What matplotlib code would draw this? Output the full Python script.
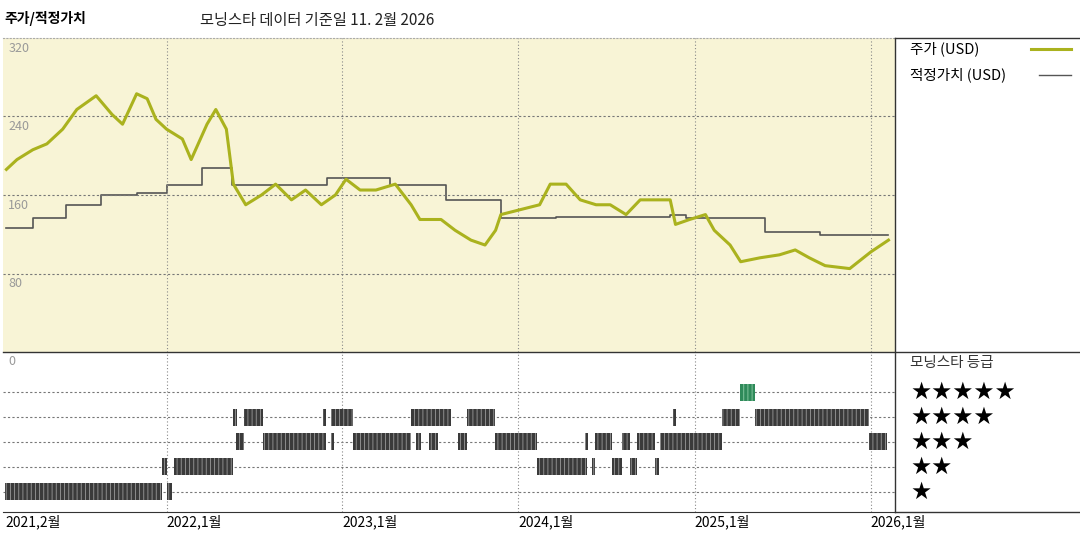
import datetime as dt
import matplotlib
matplotlib.use("Agg")
import matplotlib.pyplot as plt
import matplotlib.dates as mdates

plt.rcParams['font.family'] = ['Noto Sans CJK KR', 'DejaVu Sans']
plt.rcParams['hatch.linewidth'] = 0.6

# ---- data (dates as decimal years) ----
price_t = [2021.09, 2021.15, 2021.24, 2021.32, 2021.41, 2021.49, 2021.60, 2021.69, 2021.75, 2021.83,
           2021.89, 2021.94, 2022.00, 2022.09, 2022.14, 2022.23, 2022.28, 2022.34, 2022.38, 2022.45,
           2022.54, 2022.62, 2022.71, 2022.79, 2022.88, 2022.96, 2023.02, 2023.10, 2023.19, 2023.30,
           2023.39, 2023.44, 2023.56, 2023.64, 2023.73, 2023.81, 2023.87, 2023.90, 2024.01, 2024.12,
           2024.18, 2024.27, 2024.35, 2024.44, 2024.52, 2024.61, 2024.69, 2024.77, 2024.86, 2024.89,
           2024.97, 2025.06, 2025.11, 2025.20, 2025.26, 2025.37, 2025.48, 2025.57, 2025.65, 2025.74,
           2025.88, 2026.00, 2026.10]
price_v = [186, 196, 206, 212, 227, 247, 261, 242, 232, 263,
           258, 237, 227, 217, 196, 232, 247, 227, 171, 150,
           160, 171, 155, 165, 150, 160, 176, 165, 165, 171,
           150, 135, 135, 124, 114, 109, 124, 140, 145, 150,
           171, 171, 155, 150, 150, 140, 155, 155, 155, 130,
           135, 140, 124, 109, 92, 96, 99, 104, 96, 88,
           85, 102, 114]

fair_t = [2021.09, 2021.24, 2021.43, 2021.63, 2021.83, 2022.00, 2022.20, 2022.37, 2022.91, 2023.27,
          2023.59, 2023.90, 2024.21, 2024.86, 2024.95, 2025.40, 2025.71, 2026.10]
fair_v = [126, 137, 150, 160, 162, 170, 187, 170, 177, 170,
          155, 137, 138, 140, 137, 122, 119, 119]

# star rating periods: (start, end) decimal years
rating_periods = {
    1: [(2021.083, 2021.972), (2022.000, 2022.029)],
    2: [(2021.972, 2022.000), (2022.040, 2022.380), (2024.107, 2024.390), (2024.418, 2024.435),
        (2024.531, 2024.588), (2024.633, 2024.673), (2024.775, 2024.798)],
    3: [(2022.397, 2022.442), (2022.550, 2022.906), (2022.935, 2022.952), (2023.059, 2023.388),
        (2023.416, 2023.444), (2023.490, 2023.541), (2023.659, 2023.705), (2023.869, 2024.107),
        (2024.379, 2024.396), (2024.435, 2024.531), (2024.588, 2024.633), (2024.673, 2024.775),
        (2024.803, 2025.154), (2025.992, 2026.094)],
    4: [(2022.380, 2022.402), (2022.442, 2022.550), (2022.889, 2022.906), (2022.935, 2023.059),
        (2023.388, 2023.614), (2023.705, 2023.869), (2024.877, 2024.894), (2025.154, 2025.256),
        (2025.341, 2025.992)],
    5: [(2025.256, 2025.341)],
}

year_ticks = [2021.083, 2022.0, 2023.0, 2024.0, 2025.0, 2026.0]
year_labels = ["2021,2월", "2022,1월", "2023,1월", "2024,1월", "2025,1월", "2026,1월"]


def to_date(t):
    y = int(t)
    start = dt.datetime(y, 1, 1)
    return start + (dt.datetime(y + 1, 1, 1) - start) * (t - y)


x0, x1 = to_date(2021.072), to_date(2026.139)

fig = plt.figure(figsize=(10.8, 5.4), dpi=100)
ax = fig.add_axes([0.003, 0.348, 0.826, 0.582])
ax2 = fig.add_axes([0.003, 0.052, 0.826, 0.296])

# ---- price panel ----
ax.set_facecolor("#f8f4d6")
ax.plot([to_date(t) for t in price_t], price_v, color="#aab21e", lw=2.2, zorder=3)
ax.step([to_date(t) for t in fair_t], fair_v, where="post", color="#555555", lw=1.2, zorder=2)
ax.set_xlim(x0, x1)
ax.set_ylim(0, 320)
for v in [80, 160, 240]:
    ax.axhline(v, color="#777777", lw=0.8, ls=(0, (2, 2)))
for v in [80, 160, 240, 320]:
    ax.text(to_date(2021.10), v - 4, str(v), fontsize=9, color="#999999", va="top")
for t in year_ticks[1:]:
    ax.axvline(to_date(t), color="#888888", lw=0.8, ls=(0, (1, 2)))
ax.set_xticks([])
ax.set_yticks([])
for s in ["left", "right", "bottom"]:
    ax.spines[s].set_visible(False)
ax.spines["top"].set_color("#aaaaaa")
ax.spines["top"].set_linestyle((0, (1, 2)))

# ---- rating panel ----
ax2.set_xlim(x0, x1)
ax2.set_ylim(0.2, 6.6)
for r in range(1, 6):
    ax2.axhline(r, color="#777777", lw=0.8, ls=(0, (2, 2)), zorder=1)
for t in year_ticks[1:]:
    ax2.axvline(to_date(t), color="#888888", lw=0.8, ls=(0, (1, 2)), zorder=1)
for r, periods in rating_periods.items():
    segs = [(mdates.date2num(to_date(a)), mdates.date2num(to_date(b)) - mdates.date2num(to_date(a)))
            for a, b in periods]
    face = "#2f8a5a" if r == 5 else "#3a3a3a"
    hatch_col = "#8fcfa8" if r == 5 else "#9a9a9a"
    ax2.broken_barh(segs, (r - 0.34, 0.68), facecolor=face, edgecolor=hatch_col,
                    hatch="||||", lw=0, zorder=2)
ax2.text(to_date(2021.10), 6.5, "0", fontsize=9, color="#999999", va="top")
ax2.set_yticks([])
ax2.set_xticks([to_date(t) for t in year_ticks])
ax2.set_xticklabels(year_labels, fontsize=10, ha="left")
ax2.tick_params(axis="x", length=0, pad=2)
for s in ["left", "right", "top"]:
    ax2.spines[s].set_visible(False)
ax2.spines["bottom"].set_color("#333333")

# ---- frame lines on the right ----
fig.add_artist(plt.Line2D([0.829, 0.829], [0.052, 0.930], color="#333333", lw=1))
fig.add_artist(plt.Line2D([0.829, 1.0], [0.930, 0.930], color="#333333", lw=1))
fig.add_artist(plt.Line2D([0.003, 1.0], [0.348, 0.348], color="#333333", lw=1))
fig.add_artist(plt.Line2D([0.829, 1.0], [0.052, 0.052], color="#333333", lw=1))

# ---- texts ----
fig.text(0.004, 0.965, "주가/적정가치", fontsize=10, fontweight="bold", va="center")
fig.text(0.185, 0.962, "모닝스타 데이터 기준일 11. 2월 2026", fontsize=11, va="center", color="#222222")
fig.text(0.843, 0.910, "주가 (USD)", fontsize=10.5, va="center")
fig.add_artist(plt.Line2D([0.955, 0.992], [0.910, 0.910], color="#aab21e", lw=2.2))
fig.text(0.843, 0.862, "적정가치 (USD)", fontsize=10.5, va="center")
fig.add_artist(plt.Line2D([0.962, 0.992], [0.862, 0.862], color="#555555", lw=1))
fig.text(0.843, 0.328, "모닝스타 등급", fontsize=10.5, va="center", color="#333333")
for r in range(5, 0, -1):
    y = 1 - (392 + (5 - r) * 25) / 540
    fig.text(0.843, y, "★" * r, fontsize=17, va="center", family="DejaVu Sans")

fig.savefig("out.png", dpi=100)
